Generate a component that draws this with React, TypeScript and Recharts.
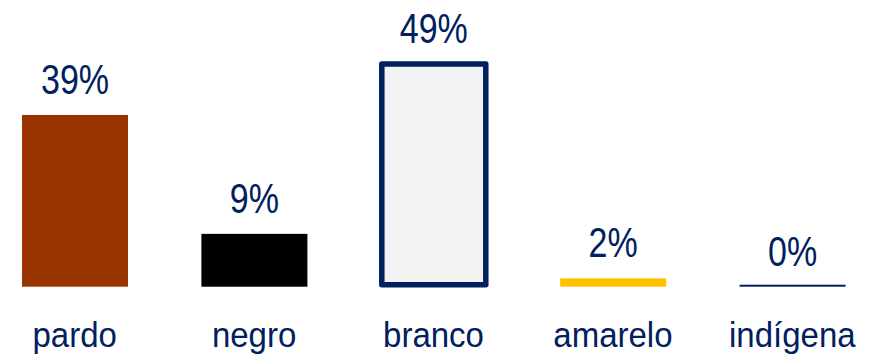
import { Bar, BarChart, Cell, LabelList, XAxis, YAxis } from "recharts";

const categories = ["pardo", "negro", "branco", "amarelo", "indígena"];
const barValues = [39, 12, 50.6, 1.9, 0];
const valueLabels = ["39%", "9%", "49%", "2%", "0%"];
const barColors = ["#993300", "#000000", "#f2f2f2", "#ffc000", "#002060"];

const navy = "#002060";

const data = categories.map((name, index) => ({
  name,
  value: barValues[index],
  label: valueLabels[index],
}));

function BarShape(props: any) {
  const { x, y, width, height, index, fill } = props;
  if (index === 2) {
    // outlined bar, stroke kept inside the band
    return (
      <rect
        x={x + 1}
        y={y}
        width={width - 2}
        height={Math.max(height - 2, 0)}
        fill={fill}
        stroke={navy}
        strokeWidth={5.5}
        strokeLinejoin="round"
      />
    );
  }
  if (!height) {
    return <rect x={x} y={y - 2} width={width} height={2} fill={fill} />;
  }
  return <rect x={x} y={y} width={width} height={height} fill={fill} />;
}

function ValueLabel(props: any) {
  const { x, y, width, index } = props;
  const cx = x + width / 2;
  return (
    <text
      transform={`translate(${cx},${y - 21}) scale(1,1.23)`}
      textAnchor="middle"
      fill={navy}
      fontSize={34}
      fontFamily="'Liberation Sans', Arial, sans-serif"
    >
      {valueLabels[index]}
    </text>
  );
}

function CategoryTick(props: any) {
  const { x, y, payload } = props;
  return (
    <text
      transform={`translate(${x},${y + 60}) scale(1,1.07)`}
      textAnchor="middle"
      fill={navy}
      fontSize={33}
      fontFamily="'Liberation Sans', Arial, sans-serif"
    >
      {payload.value}
    </text>
  );
}

export default function App() {
  return (
    <div style={{ position: "absolute", left: -14.6, top: 0 }}>
      <BarChart
        width={897}
        height={361}
        data={data}
        margin={{ top: 22.5, right: 0, bottom: 0, left: 0 }}
      >
        <XAxis
          dataKey="name"
          axisLine={false}
          tickLine={false}
          tickSize={0}
          tickMargin={0}
          height={74.3}
          interval={0}
          tick={<CategoryTick />}
        />
        <YAxis hide domain={[0, 60]} />
        <Bar
          dataKey="value"
          barSize={106}
          isAnimationActive={false}
          shape={<BarShape />}
        >
          {data.map((entry, index) => (
            <Cell key={entry.name} fill={barColors[index]} />
          ))}
          <LabelList dataKey="label" content={<ValueLabel />} />
        </Bar>
      </BarChart>
    </div>
  );
}
